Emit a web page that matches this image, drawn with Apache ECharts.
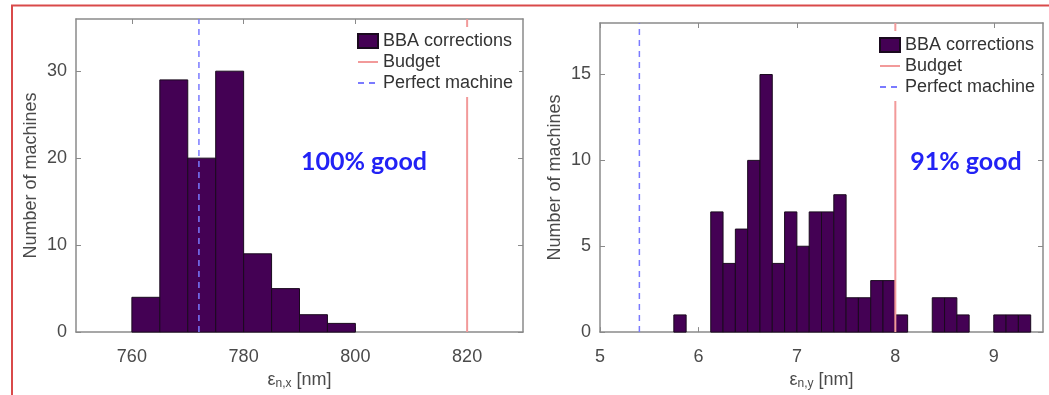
<!DOCTYPE html>
<html>
<head>
<meta charset="utf-8">
<script src="https://cdn.jsdelivr.net/npm/echarts@6/dist/echarts.min.js"></script>
<style>
html,body{margin:0;padding:0;background:#fff;}
#chart{width:1049px;height:395px;}
</style>
</head>
<body>
<div id="chart"></div>
<script>
// ---- Data ----
const xEdgesL = [760, 765, 770, 775, 780, 785, 790, 795, 800];
const countsL = [4, 29, 20, 30, 9, 5, 2, 1];
const budgetL = 820;
const perfectL = 772;
const xTicksL = [760, 780, 800, 820];
const yTicksL = [0, 10, 20, 30];

const xEdgesR = [5.75, 5.875, 6.0, 6.125, 6.25, 6.375, 6.5, 6.625, 6.75, 6.875,
                 7.0, 7.125, 7.25, 7.375, 7.5, 7.625, 7.75, 7.875, 8.0, 8.125,
                 8.25, 8.375, 8.5, 8.625, 8.75, 8.875, 9.0, 9.125, 9.25, 9.375];
const countsR = [1, 0, 0, 7, 4, 6, 10, 15, 4, 7,
                 5, 7, 7, 8, 2, 2, 3, 3, 1, 0,
                 0, 2, 2, 1, 0, 0, 1, 1, 1];
const budgetR = 8.0;
const perfectR = 5.4;
const xTicksR = [5, 6, 7, 8, 9];
const yTicksR = [0, 5, 10, 15];

const legendNames = ['BBA corrections', 'Budget', 'Perfect machine'];
const yTitle = 'Number of machines';
const goodL = '100% good';
const goodR = '91% good';

// ---- Helpers ----
function histData(edges, counts) {
  return counts.map((c, i) => [edges[i], edges[i + 1], c]);
}
function renderBar(params, api) {
  const c = api.value(2);
  if (!c) return null;
  const p0 = api.coord([api.value(0), c]);
  const p1 = api.coord([api.value(1), 0]);
  return {
    type: 'rect',
    shape: { x: p0[0], y: p0[1], width: p1[0] - p0[0], height: p1[1] - p0[1] },
    style: { fill: '#440154', stroke: '#1a0a1e', lineWidth: 1 }
  };
}
const FONT = 'Liberation Sans, Arial, sans-serif';
const axisColor = '#8a8a8a';

function xAxisCfg(grid, min, max, ticks, pos, nameSub) {
  const bottom = pos === 'bottom';
  return {
    type: 'value', gridIndex: grid, position: pos, min: min, max: max,
    axisLine: { show: true, onZero: false, lineStyle: { color: axisColor, width: 1.5 } },
    axisTick: { show: true, inside: true, length: 5, customValues: ticks, lineStyle: { color: axisColor } },
    axisLabel: { show: bottom, customValues: ticks, fontSize: 18, color: '#4a4a4a', fontFamily: FONT, margin: 16 },
    splitLine: { show: false },
    name: bottom ? '{e|ε}{s|' + nameSub + '}{e| [nm]}' : '',
    nameLocation: 'middle', nameGap: 37,
    nameTextStyle: {
      rich: {
        e: { fontSize: 18, color: '#4a4a4a', fontFamily: FONT },
        s: { fontSize: 12, color: '#4a4a4a', fontFamily: FONT, padding: [8, 0, 0, 0] }
      }
    }
  };
}
function yAxisCfg(grid, min, max, ticks, pos) {
  const left = pos === 'left';
  return {
    type: 'value', gridIndex: grid, position: pos, min: min, max: max,
    axisLine: { show: true, onZero: false, lineStyle: { color: axisColor, width: 1.5 } },
    axisTick: { show: true, inside: true, length: 5, customValues: ticks, lineStyle: { color: axisColor } },
    axisLabel: { show: left, customValues: ticks, fontSize: 18, color: '#4a4a4a', fontFamily: FONT, margin: 9 },
    splitLine: { show: false },
    name: left ? yTitle : '', nameLocation: 'middle', nameGap: 36,
    nameTextStyle: { fontSize: 18, color: '#4a4a4a', fontFamily: FONT }
  };
}
function vLine(name, x, ymax, xi, yi, color, type) {
  return {
    name: name, type: 'line', xAxisIndex: xi, yAxisIndex: yi,
    data: [[x, 0], [x, ymax]], symbol: 'none', silent: true, z: 3,
    lineStyle: { color: color, width: type === 'dashed' ? 1.5 : 2, type: type === 'dashed' ? [6, 5] : 'solid' },
    itemStyle: { color: color }
  };
}
const hiddenSymbol = { opacity: 0, color: 'rgba(0,0,0,0)', borderWidth: 0 };
function legendCfg(left, top) {
  return {
    orient: 'vertical', left: left, top: top,
    data: [
      { name: legendNames[0], icon: 'rect' },
      { name: legendNames[1], itemStyle: hiddenSymbol },
      { name: legendNames[2], itemStyle: hiddenSymbol }
    ],
    backgroundColor: '#fff', padding: [5, 6, 5, 15],
    itemWidth: 20, itemHeight: 14, itemGap: 3,
    selectedMode: false,
    textStyle: { fontSize: 18, color: '#333', fontFamily: FONT, lineHeight: 18 }
  };
}

const chart = echarts.init(document.getElementById('chart'), null, { renderer: 'canvas' });
chart.setOption({
  animation: false,
  backgroundColor: '#fff',
  grid: [
    { left: 76, top: 19, width: 447, height: 314 },
    { left: 600, top: 23, width: 443, height: 312 }
  ],
  xAxis: [
    xAxisCfg(0, 750, 830, xTicksL, 'bottom', 'n,x'),
    xAxisCfg(0, 750, 830, xTicksL, 'top', ''),
    xAxisCfg(1, 5, 9.5, xTicksR, 'bottom', 'n,y'),
    xAxisCfg(1, 5, 9.5, xTicksR, 'top', '')
  ],
  yAxis: [
    yAxisCfg(0, 0, 36, yTicksL, 'left'),
    yAxisCfg(0, 0, 36, yTicksL, 'right'),
    yAxisCfg(1, 0, 18, yTicksR, 'left'),
    yAxisCfg(1, 0, 18, yTicksR, 'right')
  ],
  legend: [legendCfg(342, 27), legendCfg(864, 31)],
  series: [
    {
      name: legendNames[0], type: 'custom', xAxisIndex: 0, yAxisIndex: 0,
      renderItem: renderBar, data: histData(xEdgesL, countsL),
      itemStyle: { color: '#440154', borderColor: '#1a0a1e', borderWidth: 1 }, z: 2,
      encode: { x: [0, 1], y: 2 }
    },
    vLine(legendNames[1], budgetL, 36, 0, 0, '#f29a9a', 'solid'),
    vLine(legendNames[2], perfectL, 36, 0, 0, '#7a7aff', 'dashed'),
    {
      name: legendNames[0], type: 'custom', xAxisIndex: 2, yAxisIndex: 2,
      renderItem: renderBar, data: histData(xEdgesR, countsR),
      itemStyle: { color: '#440154', borderColor: '#1a0a1e', borderWidth: 1 }, z: 2,
      encode: { x: [0, 1], y: 2 }
    },
    vLine(legendNames[1], budgetR, 18, 2, 2, '#f29a9a', 'solid'),
    vLine(legendNames[2], perfectR, 18, 2, 2, '#7a7aff', 'dashed')
  ],
  graphic: [
    { type: 'line', shape: { x1: 12, y1: 5, x2: 12, y2: 395 }, style: { stroke: '#d94a4a', lineWidth: 2 }, z: 100 },
    { type: 'line', shape: { x1: 11, y1: 5.5, x2: 1049, y2: 5.5 }, style: { stroke: '#d94a4a', lineWidth: 2 }, z: 100 },
    { type: 'text', x: 364, y: 162, z: 100,
      style: { text: goodL, fill: '#2222f5', font: 'bold 25px Lato, sans-serif', textAlign: 'center', textVerticalAlign: 'middle' } },
    { type: 'text', x: 966, y: 162, z: 100,
      style: { text: goodR, fill: '#2222f5', font: 'bold 25px Lato, sans-serif', textAlign: 'center', textVerticalAlign: 'middle' } }
  ]
});
</script>
</body>
</html>
